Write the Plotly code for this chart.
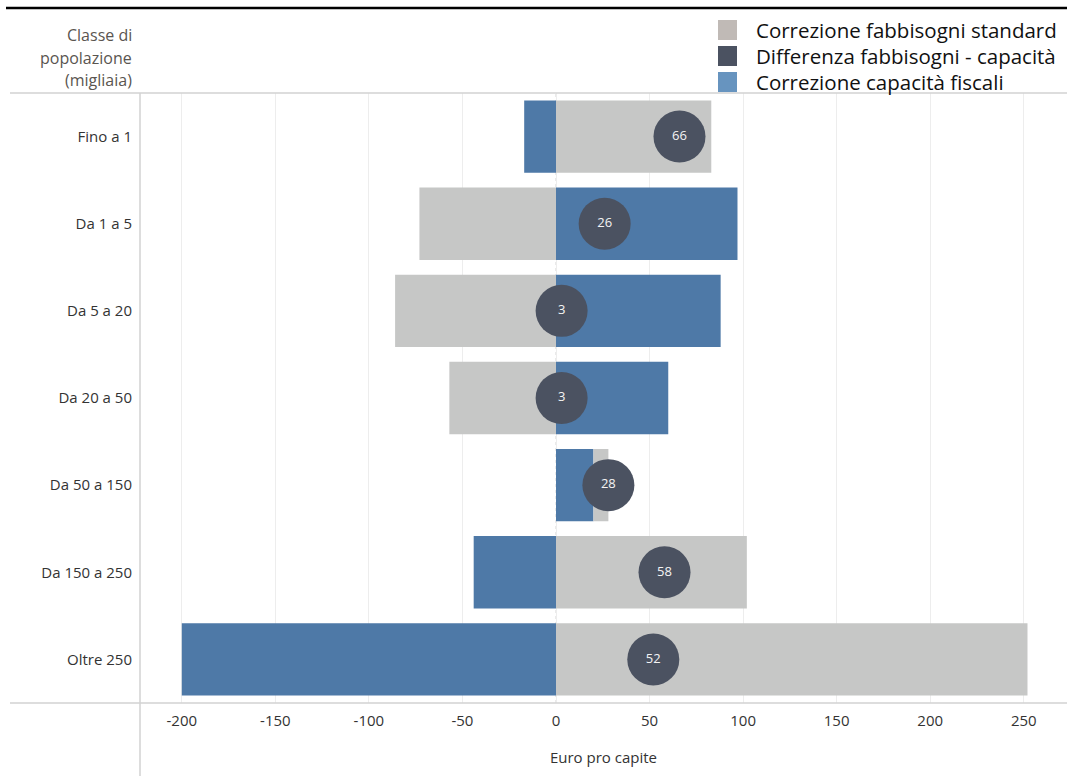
import plotly.graph_objects as go

# Population classes (thousands of inhabitants), top to bottom
classi = ["Fino a 1", "Da 1 a 5", "Da 5 a 20", "Da 20 a 50",
          "Da 50 a 150", "Da 150 a 250", "Oltre 250"]

# Euro per capita
correzione_fabbisogni = [83, -73, -86, -57, 8, 102, 252]
correzione_capacita = [-17, 97, 88, 60, 20, -44, -200]
differenza = [66, 26, 3, 3, 28, 58, 52]

x_ticks = [-200, -150, -100, -50, 0, 50, 100, 150, 200, 250]

legend_items = [
    ("Correzione fabbisogni standard", "#c0bab6"),
    ("Differenza fabbisogni - capacità", "#4b5261"),
    ("Correzione capacità fiscali", "#6794bf"),
]

BLUE = "#4e79a7"
GRAY = "#c6c7c6"
DARK = "#4b5261"
FONT = "Open Sans"

fig = go.Figure()
fig.add_trace(go.Bar(
    y=classi, x=correzione_capacita, orientation="h",
    marker=dict(color=BLUE, line=dict(width=0)),
    width=0.83, name="Correzione capacità fiscali", showlegend=False,
))
fig.add_trace(go.Bar(
    y=classi, x=correzione_fabbisogni, orientation="h",
    marker=dict(color=GRAY, line=dict(width=0)),
    width=0.83, name="Correzione fabbisogni standard", showlegend=False,
))
fig.add_trace(go.Scatter(
    y=classi, x=differenza, mode="markers+text",
    marker=dict(size=52, color=DARK, line=dict(width=0)),
    text=[str(v) for v in differenza], textposition="middle center",
    textfont=dict(color="#f4f4f4", size=13, family=FONT),
    name="Differenza fabbisogni - capacità", showlegend=False,
))

W, H = 1067, 776
L, R, T, B = 140, 0, 93, 73
pw, ph = W - L - R, H - T - B


def px_x(px):
    return (px - L) / pw


def px_y(py):
    return (H - B - py) / ph


shapes = [
    # zero reference line, behind the bars
    dict(type="line", xref="x", yref="paper", x0=0, x1=0, y0=0, y1=1,
         line=dict(color="#d4d4d4", width=1, dash="dot"), layer="below"),
    # top rule
    dict(type="line", xref="paper", yref="paper", x0=px_x(6), x1=px_x(W),
         y0=px_y(8), y1=px_y(8), line=dict(color="black", width=2.5)),
    # header separator and axis baseline
    dict(type="line", xref="paper", yref="paper", x0=px_x(10), x1=px_x(W),
         y0=1, y1=1, line=dict(color="#d2d2d2", width=1.5)),
    dict(type="line", xref="paper", yref="paper", x0=px_x(10), x1=px_x(W),
         y0=0, y1=0, line=dict(color="#d2d2d2", width=1.5)),
    # left divider
    dict(type="line", xref="paper", yref="paper", x0=0, x1=0,
         y0=1, y1=px_y(H), line=dict(color="#d2d2d2", width=1.5)),
]

annotations = []
for i, line in enumerate(["Classe di", "popolazione", "(migliaia)"]):
    annotations.append(dict(
        xref="paper", yref="paper", x=px_x(134), y=px_y(35 + 22.5 * i),
        xanchor="right", yanchor="middle", showarrow=False, text=line,
        font=dict(family=FONT, size=16, color="#5a5550"),
    ))

for i, (label, color) in enumerate(legend_items):
    cy = 30 + 26 * i
    shapes.append(dict(
        type="rect", xref="paper", yref="paper",
        x0=px_x(718), x1=px_x(737), y0=px_y(cy - 10), y1=px_y(cy + 10),
        fillcolor=color, line=dict(width=0),
    ))
    annotations.append(dict(
        xref="paper", yref="paper", x=px_x(754), y=px_y(cy),
        xanchor="left", yanchor="middle", showarrow=False, text=label,
        font=dict(family=FONT, size=20.5, color="#111111"),
    ))

fig.update_layout(
    width=W, height=H,
    margin=dict(l=L, r=R, t=T, b=B, pad=0),
    barmode="relative",
    plot_bgcolor="white", paper_bgcolor="white",
    font=dict(family=FONT, size=15, color="#333333"),
    shapes=shapes, annotations=annotations,
    showlegend=False,
    xaxis=dict(
        range=[(L - 556) / 1.871, (W - 556) / 1.871],
        tickvals=x_ticks, ticktext=[str(v) for v in x_ticks],
        showgrid=True, gridcolor="#ededed", gridwidth=1,
        zeroline=False, showline=False,
        ticks="outside", ticklen=4, tickcolor="rgba(0,0,0,0)",
        tickfont=dict(size=15, color="#333333"),
        title=dict(text="Euro pro capite", standoff=23,
                   font=dict(size=15, color="#333333")),
    ),
    yaxis=dict(
        type="category", categoryorder="array", categoryarray=classi,
        range=[6.5, -0.5],
        showgrid=False, zeroline=False, showline=False,
        ticks="outside", ticklen=4, tickcolor="rgba(0,0,0,0)",
        tickfont=dict(size=15, color="#333333"),
    ),
)

fig.write_html("out.html")
